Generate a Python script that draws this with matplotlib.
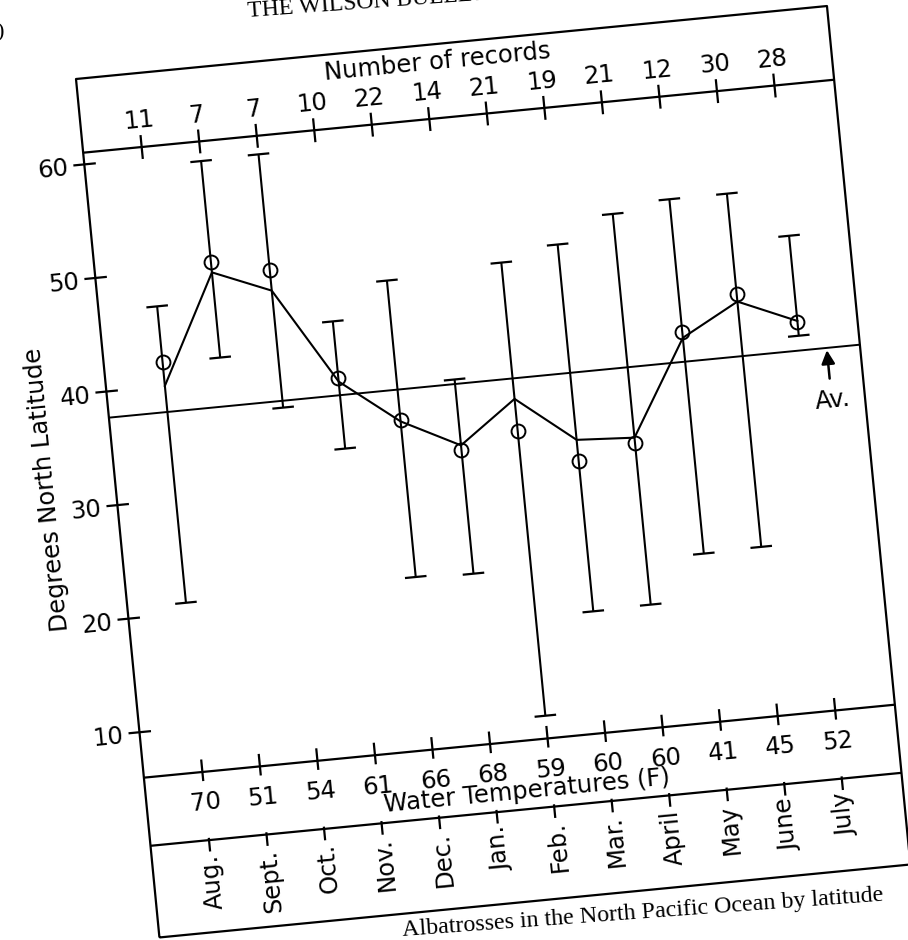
import matplotlib
matplotlib.use('Agg')
import matplotlib.pyplot as plt
from matplotlib.transforms import Affine2D

# values (degrees north latitude)
months = ['Aug.', 'Sept.', 'Oct.', 'Nov.', 'Dec.', 'Jan.', 'Feb.', 'Mar.',
          'April', 'May', 'June', 'July']
n_records = [11, 7, 7, 10, 22, 14, 21, 19, 21, 12, 30, 28]
water_temps = [70, 51, 54, 61, 66, 68, 59, 60, 60, 41, 45, 52]
lat_high = [47.0, 59.3, 59.4, 44.2, 47.3, 38.1, 47.9, 49.0, 51.2, 52.0, 52.0, 47.8]
lat_low = [20.9, 42.0, 37.1, 33.0, 21.2, 21.0, 8.0, 16.7, 16.8, 20.8, 20.9, 39.0]
lat_circle = [42.1, 50.4, 49.2, 39.2, 35.0, 31.9, 33.1, 29.9, 31.0, 40.3, 43.2, 40.2]
lat_line = [40.0, 49.5, 47.4, 38.9, 34.9, 32.3, 35.9, 31.8, 31.5, 39.8, 42.5, 40.3]
lat_avg = 37.7
y_ticks = [10, 20, 30, 40, 50, 60]

# page geometry: the scan is tilted a few degrees
W, H = 908, 940
TILT = 5.55
CORNER = (76, 861)          # top-left corner of the chart box, pixels
BOX_W, BOX_H = 754.5, 862.5
XLIM = (-1.017, 12.037)
YLIM = (-8.07, 67.52)
Y_REC, Y_TEMP, Y_MONTH = 61.03, 6.0, 0.0
FS = 17.5

fig = plt.figure(figsize=(W / 100, H / 100), dpi=100)
ax = fig.add_axes([CORNER[0] / W, (CORNER[1] - BOX_H) / H, BOX_W / W, BOX_H / H])
ax.set_autoscale_on(False)
ax.set_xlim(*XLIM)
ax.set_ylim(*YLIM)
ax.set_axis_off()

T = ax.transData + Affine2D().rotate_deg_around(CORNER[0], CORNER[1], TILT)


def line(xs, ys, lw=1.6, **kw):
    ax.plot(xs, ys, color='black', lw=lw, transform=T, clip_on=False,
            solid_capstyle='butt', **kw)


def label(x, y, s, rot=0, size=FS, **kw):
    ax.text(x, y, s, transform=T, rotation=TILT + rot, rotation_mode='anchor',
            fontsize=size, color='black', clip_on=False, **kw)


x0, x1 = XLIM
y0, y1 = YLIM
xs = list(range(len(months)))

# frame and band separators
line([x0, x1, x1, x0, x0], [y0, y0, y1, y1, y0])
for yy in (Y_REC, Y_TEMP, Y_MONTH):
    line([x0, x1], [yy, yy])
line([x0, x1], [lat_avg, lat_avg], lw=1.4)

# ticks on the bands
for x in xs:
    line([x, x], [Y_REC - 1.05, Y_REC + 1.05])
    line([x, x], [Y_TEMP - 0.8, Y_TEMP + 1.1])
    line([x, x], [Y_MONTH + 0.2, Y_MONTH - 1.0])

# latitude axis
for yt in y_ticks:
    line([x0 - 0.19, x0 + 0.2], [yt, yt])
    label(x0 - 0.28, yt, str(yt), ha='right', va='center_baseline')
label(-2.2, 32.0, 'Degrees North Latitude', rot=90, ha='center', va='center')

# range bars
cap = 0.187
for x, lo, hi in zip(xs, lat_low, lat_high):
    line([x, x], [lo, hi], lw=1.5)
    line([x - cap, x + cap], [lo, lo], lw=1.6)
    line([x - cap, x + cap], [hi, hi], lw=1.6)

ax.plot(xs, lat_line, color='black', lw=1.5, transform=T, clip_on=False)
ax.plot(xs, lat_circle, 'o', ms=10, mfc='none', mec='black', mew=1.4,
        ls='none', transform=T, clip_on=False)

# average marker
ax.annotate('', xy=(11.46, 37.5), xytext=(11.46, 35.0), xycoords=T, textcoords=T,
            arrowprops=dict(arrowstyle='-|>', color='black', lw=1.8,
                            mutation_scale=20, shrinkA=0, shrinkB=0))
label(11.48, 33.1, 'Av.', ha='center', va='center')

# records band
label(5.23, 65.31, 'Number of records', ha='center', va='baseline')
for x, n in zip(xs, n_records):
    label(x, 62.73, str(n), ha='center', va='baseline')

# temperature band
for x, t in zip(xs, water_temps):
    label(x, 2.67, str(t), ha='center', va='baseline')
label(5.55, 0.93, 'Water Temperatures (F)', ha='center', va='baseline')

# month band
for x, m in zip(xs, months):
    label(x, -1.26, m, rot=90, ha='right', va='center')

# surrounding page text
serif = ['Liberation Serif', 'DejaVu Serif']
fig.text(248 / W, 1 - 17 / H, 'THE WILSON BULLETIN', fontsize=17, family=serif,
         rotation=4.2, rotation_mode='anchor', ha='left', va='baseline')
fig.text(403 / W, 1 - 936 / H, 'Albatrosses in the North Pacific Ocean by latitude',
         fontsize=17.3, family=serif, rotation=4.2, rotation_mode='anchor',
         ha='left', va='baseline')
fig.text(4 / W, 1 - 33 / H, ')', fontsize=16, family=serif, ha='right', va='center')

fig.savefig('out.png', dpi=100)
